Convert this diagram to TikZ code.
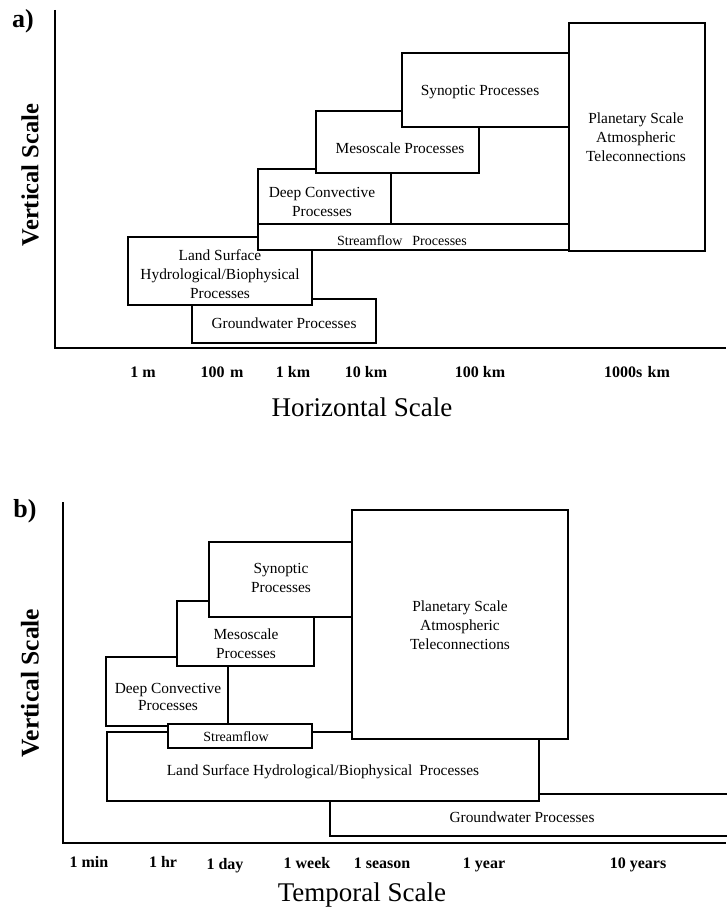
\documentclass[tikz,border=0pt]{standalone}
\usepackage{fontspec}
\setmainfont{Liberation Serif}
\usetikzlibrary{fit}
\tikzset{
  pbox/.style={draw, line width=1.2pt, fill=white, inner sep=0pt, rectangle},
  ptext/.style={font=\fontsize{15.4}{19}\selectfont, align=center, inner sep=0pt},
  stext/.style={font=\fontsize{14}{16}\selectfont, inner sep=0pt},
  ticklab/.style={font=\bfseries\fontsize{16}{18}\selectfont, inner sep=0pt, anchor=base},
  axtitle/.style={font=\fontsize{27}{30}\selectfont, inner sep=0pt},
  vtitle/.style={font=\bfseries\fontsize{24.5}{28}\selectfont, inner sep=0pt, rotate=90},
  panel/.style={font=\bfseries\fontsize{26}{30}\selectfont, inner sep=0pt},
  axisline/.style={line width=1.6pt}
}
\begin{document}
\begin{tikzpicture}[x=1pt,y=-1pt]
\useasboundingbox (0,0) rectangle (726,912);
\fill[white] (0,0) rectangle (726,912);

% ---------------- panel a ----------------
\node[panel] (pa) at (23,21) {a)};
\coordinate (aTop) at (55,10);
\coordinate (aOrig) at (55,348);
\coordinate (aEnd) at (726,348);
\draw[axisline] (aTop) -- (aOrig) -- (aEnd);

\node[pbox, fit={(192,299) (376,343)}] (gwA) {};
\node[ptext] (gwAt) at (284,323) {Groundwater Processes};
\node[pbox, fit={(128,237) (312,305)}] (lsA) {};
\node[ptext] (lsAt) at (220,274) {Land Surface\\Hydrological/Biophysical\\Processes};
\node[pbox, fit={(258,224) (569,250)}] (sfA) {};
\node[stext] (sfAt) at (402,241) {Streamflow\hspace{10pt}Processes};
\node[pbox, fit={(258,169) (391,224)}] (dcA) {};
\node[ptext] (dcAt) at (322,202) {Deep Convective\\Processes};
\node[pbox, fit={(316,111) (479,173)}] (msA) {};
\node[ptext] (msAt) at (400,148) {Mesoscale Processes};
\node[pbox, fit={(402,53) (569,127)}] (syA) {};
\node[ptext] (syAt) at (480,92) {Synoptic Processes};
\node[pbox, fit={(569,23) (705,251)}] (plA) {};
\node[ptext] (plAt) at (636,137) {Planetary Scale\\Atmospheric\\Teleconnections};

\node[ticklab] (ta1) at (143,377) {1 m};
\node[ticklab] (ta2) at (222,377) {100\,\,m};
\node[ticklab] (ta3) at (293,377) {1 km};
\node[ticklab] (ta4) at (366,377) {10 km};
\node[ticklab] (ta5) at (480,377) {100 km};
\node[ticklab] (ta6) at (637,377) {1000s\,\,km};
\node[axtitle] (hA) at (362,407) {Horizontal Scale};
\node[vtitle] (vA) at (30,175) {Vertical Scale};

% ---------------- panel b ----------------
\node[panel] (pb) at (25,511) {b)};
\coordinate (bTop) at (63,502);
\coordinate (bOrig) at (63,843);
\coordinate (bEnd) at (726,843);
\draw[axisline] (bTop) -- (bOrig) -- (bEnd);

\node[pbox, fit={(330,794) (760,836)}] (gwB) {};
\node[ptext] (gwBt) at (522,817) {Groundwater Processes};
\node[pbox, fit={(107,732) (539,801)}] (lsB) {};
\node[ptext] (lsBt) at (323,772) {Land Surface Hydrological/Biophysical\hspace{7pt}Processes};
\node[pbox, fit={(352,510) (568,739)}] (plB) {};
\node[ptext] (plBt) at (460,625) {Planetary Scale\\Atmospheric\\Teleconnections};
\node[pbox, fit={(106,657) (228,726)}] (dcB) {};
\node[ptext, font=\fontsize{15.4}{17}\selectfont] (dcBt) at (168,697) {Deep Convective\\Processes};
\node[pbox, fit={(168,724) (312,748)}] (sfB) {};
\node[stext] (sfBt) at (236,737) {Streamflow};
\node[pbox, fit={(177,601) (314,666)}] (msB) {};
\node[ptext] (msBt) at (246,644) {Mesoscale\\Processes};
\node[pbox, fit={(209,542) (352,617)}] (syB) {};
\node[ptext] (syBt) at (281,578) {Synoptic\\Processes};

\node[ticklab] (tb1) at (89,867) {1 min};
\node[ticklab] (tb2) at (163,867) {1 hr};
\node[ticklab] (tb3) at (225,869) {1 day};
\node[ticklab] (tb4) at (307,868) {1 week};
\node[ticklab] (tb5) at (382,868) {1 season};
\node[ticklab] (tb6) at (484,868) {1 year};
\node[ticklab] (tb7) at (638,868) {10 years};
\node[axtitle] (hB) at (362,895) {Temporal Scale};
\node[vtitle, font=\bfseries\fontsize{25.5}{28}\selectfont] (vB) at (30,683) {Vertical Scale};
\end{tikzpicture}
\end{document}
